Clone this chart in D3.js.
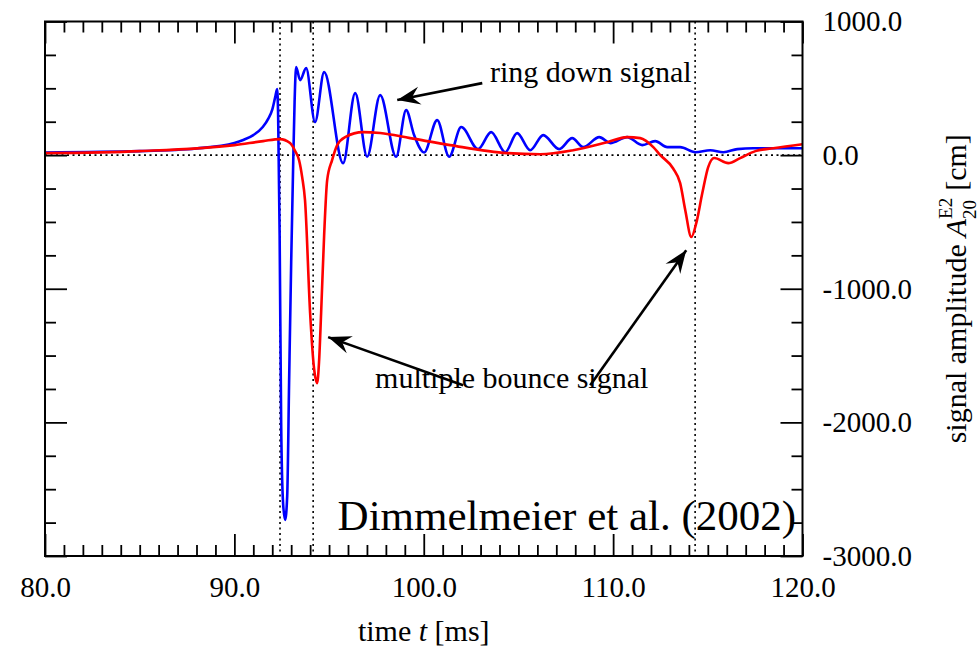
<!DOCTYPE html>
<html>
<head>
<meta charset="utf-8">
<script src="https://cdn.jsdelivr.net/npm/d3@7"></script>
<style>
  body { margin: 0; background: #fff; }
  text { font-family: "Liberation Serif", "Times New Roman", serif; fill: #000; white-space: pre; }
</style>
</head>
<body>
<script>
// signal data: [time ms, amplitude cm]
const ringDown = [
  [80.0, 20], [85.0, 30], [88.0, 50], [90.0, 90], [90.5, 115], [91.0, 150],
  [91.5, 210], [91.8, 275], [92.0, 340], [92.15, 430], [92.26, 495], [92.31, 300],
  [92.39, -600], [92.47, -2000], [92.57, -2600], [92.68, -2730], [92.79, -2550],
  [92.89, -1700], [93.0, -800], [93.1, -100], [93.18, 400], [93.26, 659],
  [93.47, 561], [93.79, 651], [94.26, 247], [94.74, 621], [95.74, -60],
  [96.38, 464], [97.01, -12], [97.7, 449], [98.54, -12], [99.07, 337],
  [99.49, 150], [100.02, 20], [100.71, 262], [101.34, -12], [101.98, 210],
  [102.87, 45], [103.56, 172], [104.3, 22], [104.93, 165], [105.62, 37],
  [106.31, 150], [107.15, 45], [107.84, 127], [108.42, 60], [109.27, 135],
  [109.85, 90], [110.74, 135], [111.54, 75], [112.22, 105], [112.86, 60],
  [113.54, 60], [114.34, 22], [115.13, 37], [115.82, 22], [116.56, 45],
  [117.4, 52], [118.14, 52], [120.0, 52]
];

const multiBounce = [
  [80.0, 15], [85.0, 30], [90.0, 75], [91.52, 105], [92.41, 120], [92.94, 90],
  [93.21, 30], [93.42, -40], [93.58, -165], [93.73, -337], [94.0, -1183],
  [94.21, -1600], [94.37, -1707], [94.47, -1550], [94.58, -1183], [94.74, -600],
  [94.9, -187], [95.16, -37], [95.43, 75], [95.85, 135], [96.8, 172],
  [97.7, 165], [99.28, 127], [101.39, 75], [104.41, 15], [106.15, 7],
  [107.89, 37], [109.69, 97], [110.74, 135], [111.43, 127], [112.12, 60],
  [112.49, 0], [113.17, -100], [113.54, -210], [113.81, -412], [114.13, -613],
  [114.39, -509], [114.71, -284], [115.02, -90], [115.34, -22], [116.08, -60],
  [116.71, -22], [117.51, 30], [118.46, 52], [120.0, 82]
];

const timeTicks = [80, 90, 100, 110, 120];
const ampTicks = [1000, 0, -1000, -2000, -3000];
const markerTimes = [92.41, 94.16, 114.33];

// annotations in data units
const notes = [
  { text: "ring down signal", t: 103.5, v: 546, size: 30 },
  { text: "multiple bounce signal", t: 97.43, v: -1744, size: 30 },
  { text: "Dimmelmeier et al. (2002)", t: 95.45, v: -2807, size: 43 }
];
const arrows = [
  { from: [103.09, 539], to: [98.6, 412] },
  { from: [102.08, -1722], to: [94.95, -1362] },
  { from: [108.79, -1722], to: [113.86, -711] }
];

const width = 980, height = 646;
const plotL = 45, plotT = 21.5, plotR = 802.5, plotB = 556;
const serif = "Liberation Serif, Times New Roman, serif";

const svg = d3.select("body").append("svg")
  .attr("width", width)
  .attr("height", height);

const x = d3.scaleLinear().domain([80, 120]).range([plotL, plotR]);
const y = d3.scaleLinear().domain([-3000, 1000]).range([plotB, plotT]);

svg.append("defs").append("marker")
  .attr("id", "head")
  .attr("viewBox", "-24 -10 26 20")
  .attr("markerWidth", 26)
  .attr("markerHeight", 20)
  .attr("markerUnits", "userSpaceOnUse")
  .attr("refX", 0)
  .attr("refY", 0)
  .attr("orient", "auto")
  .append("path")
  .attr("d", "M0,0 L-23,-9 L-15,0 L-23,9 Z")
  .attr("fill", "#000");

// dotted reference lines
svg.append("line")
  .attr("x1", plotL).attr("x2", plotR)
  .attr("y1", y(0)).attr("y2", y(0))
  .attr("stroke", "#000").attr("stroke-width", 1.6)
  .attr("stroke-dasharray", "2,3.5");

svg.selectAll("line.vmark")
  .data(markerTimes)
  .join("line")
  .attr("class", "vmark")
  .attr("x1", d => x(d)).attr("x2", d => x(d))
  .attr("y1", plotT).attr("y2", plotB)
  .attr("stroke", "#000").attr("stroke-width", 1.6)
  .attr("stroke-dasharray", "2,3.5");

// curves
const line = d3.line()
  .x(d => x(d[0]))
  .y(d => y(d[1]))
  .curve(d3.curveMonotoneX);

svg.append("path")
  .datum(ringDown)
  .attr("d", line)
  .attr("fill", "none")
  .attr("stroke", "#0000ff")
  .attr("stroke-width", 2.6);

svg.append("path")
  .datum(multiBounce)
  .attr("d", line)
  .attr("fill", "none")
  .attr("stroke", "#ff0000")
  .attr("stroke-width", 2.6);

// axes: major and minor ticks pointing inward on all four sides
const minorT = d3.range(80, 121, 1).filter(d => d % 10 !== 0);
const minorA = d3.range(-3000, 1001, 250).filter(d => d % 1000 !== 0);
const fmt = d => d.toFixed(1);

function styleAxis(g) {
  g.attr("font-family", serif).attr("font-size", 29);
  g.select(".domain").remove();
  g.selectAll(".tick line").attr("stroke", "#000").attr("stroke-width", 1.8);
  g.selectAll(".tick text").style("font-family", serif).attr("fill", "#000");
}

svg.append("g")
  .attr("transform", `translate(0,${plotB})`)
  .call(d3.axisBottom(x).tickValues(timeTicks).tickSize(-22).tickPadding(20).tickFormat(fmt))
  .call(styleAxis);
svg.append("g")
  .attr("transform", `translate(0,${plotB})`)
  .call(d3.axisBottom(x).tickValues(minorT).tickSize(-11).tickFormat(""))
  .call(styleAxis);
svg.append("g")
  .attr("transform", `translate(0,${plotT})`)
  .call(d3.axisTop(x).tickValues(timeTicks).tickSize(-22).tickFormat(""))
  .call(styleAxis);
svg.append("g")
  .attr("transform", `translate(0,${plotT})`)
  .call(d3.axisTop(x).tickValues(minorT).tickSize(-11).tickFormat(""))
  .call(styleAxis);

svg.append("g")
  .attr("transform", `translate(${plotL},0)`)
  .call(d3.axisLeft(y).tickValues(ampTicks).tickSize(-22).tickFormat(""))
  .call(styleAxis);
svg.append("g")
  .attr("transform", `translate(${plotL},0)`)
  .call(d3.axisLeft(y).tickValues(minorA).tickSize(-11).tickFormat(""))
  .call(styleAxis);
svg.append("g")
  .attr("transform", `translate(${plotR},0)`)
  .call(d3.axisRight(y).tickValues(ampTicks).tickSize(-22).tickPadding(20).tickFormat(fmt))
  .call(styleAxis);
svg.append("g")
  .attr("transform", `translate(${plotR},0)`)
  .call(d3.axisRight(y).tickValues(minorA).tickSize(-11).tickFormat(""))
  .call(styleAxis);

// frame
svg.append("rect")
  .attr("x", plotL).attr("y", plotT)
  .attr("width", plotR - plotL).attr("height", plotB - plotT)
  .attr("fill", "none").attr("stroke", "#000").attr("stroke-width", 2);

// annotations
svg.selectAll("text.note")
  .data(notes)
  .join("text")
  .attr("class", "note")
  .attr("x", d => x(d.t))
  .attr("y", d => y(d.v))
  .attr("font-size", d => d.size)
  .text(d => d.text);

svg.selectAll("line.arrow")
  .data(arrows)
  .join("line")
  .attr("class", "arrow")
  .attr("x1", d => x(d.from[0])).attr("y1", d => y(d.from[1]))
  .attr("x2", d => x(d.to[0])).attr("y2", d => y(d.to[1]))
  .attr("stroke", "#000").attr("stroke-width", 2.6)
  .attr("marker-end", "url(#head)");

// axis titles
const xt = svg.append("text")
  .attr("x", (plotL + plotR) / 2)
  .attr("y", 641)
  .attr("text-anchor", "middle")
  .attr("font-size", 30);
xt.append("tspan").text("time ");
xt.append("tspan").attr("font-style", "italic").text("t");
xt.append("tspan").text(" [ms]");

const yt = svg.append("g")
  .attr("transform", `translate(966,${(plotT + plotB) / 2}) rotate(-90)`);
const pieces = [
  { s: "signal amplitude", size: 30, dy: 0, gap: 7 },
  { s: "A", size: 30, dy: 0, italic: true, gap: 0 },
  { s: "E2", size: 19, dy: -14, stack: true },
  { s: "20", size: 19, dy: 10, gap: 7 },
  { s: "[cm]", size: 30, dy: 0, gap: 0 }
];
let cx = 0, stackStart = 0, stackW = 0;
const nodes = pieces.map(p => yt.append("text")
  .attr("font-size", p.size)
  .attr("font-style", p.italic ? "italic" : "normal")
  .attr("y", p.dy)
  .text(p.s));
nodes.forEach((t, i) => {
  const p = pieces[i];
  const w = t.node().getComputedTextLength();
  if (p.stack) {
    stackStart = cx; stackW = w;
    t.attr("x", cx);
  } else if (pieces[i - 1] && pieces[i - 1].stack) {
    t.attr("x", stackStart);
    cx = stackStart + Math.max(w, stackW) + p.gap;
  } else {
    t.attr("x", cx);
    cx += w + p.gap;
  }
});
nodes.forEach(t => t.attr("x", +t.attr("x") - cx / 2));
</script>
</body>
</html>
